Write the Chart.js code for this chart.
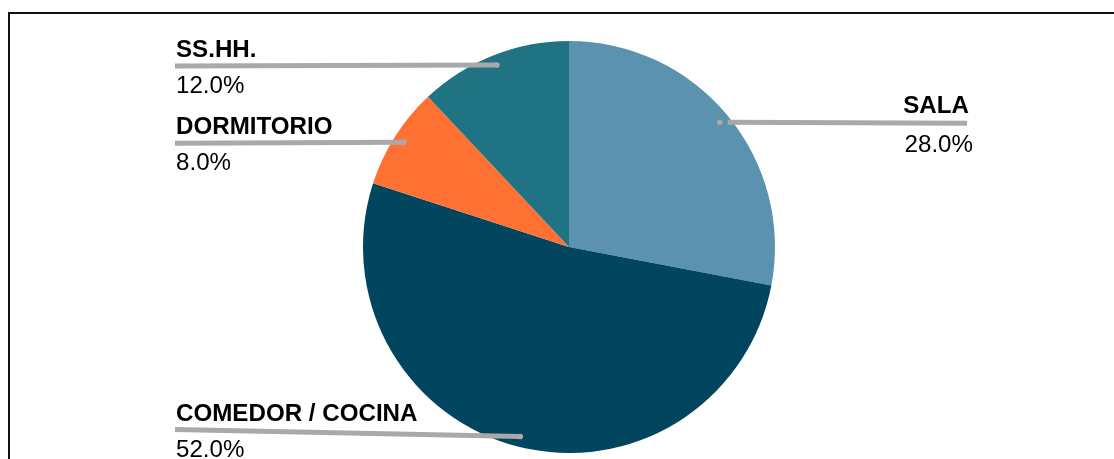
<!DOCTYPE html>
<html>
<head>
<meta charset="utf-8">
<script src="https://cdn.jsdelivr.net/npm/chart.js@4.4.1/dist/chart.umd.min.js"></script>
<style>
    html, body { margin: 0; padding: 0; background: #fff; overflow: hidden; }
    #marco { position: absolute; left: 8px; top: 12px; width: 1200px; height: 600px; border: 2px solid #111; }
    #contenedor { position: absolute; left: 0; top: 0; width: 1114px; height: 459px; }
</style>
</head>
<body>
<div id="marco"></div>
<div id="contenedor"><canvas id="graficoAmbientes" width="1114" height="459"></canvas></div>
<script>
// datos del grafico
var ambientes = ['SALA', 'COMEDOR / COCINA', 'DORMITORIO', 'SS.HH.'];
var porcentajes = [28.0, 52.0, 8.0, 12.0];
var colores = ['#5A92B0', '#02455F', '#FF7033', '#1F7383'];

// donde va cada etiqueta: lado y desnivel de la linea guia
var ladoEtiqueta = ['der', 'izq', 'izq', 'izq'];
var desnivelGuia = [1, -7, 1, 1];
var xIzq = 175, xDer = 967;

// texto un poco ensanchado
function textoAncho(ctx, texto, x, y, fuente) {
    ctx.save();
    ctx.font = fuente;
    ctx.translate(x, y);
    ctx.scale(1.05, 1);
    ctx.fillText(texto, 0, 0);
    ctx.restore();
}

var etiquetasGuia = {
    id: 'etiquetasGuia',
    afterDatasetsDraw: function (chart) {
        var ctx = chart.ctx;
        var meta = chart.getDatasetMeta(0);
        var negrita = 'bold 23px "Liberation Sans", Arial, sans-serif';
        var normal = '23px "Liberation Sans", Arial, sans-serif';
        ctx.save();
        for (var i = 0; i < meta.data.length; i++) {
            var arco = meta.data[i];
            var medio = (arco.startAngle + arco.endAngle) / 2;
            var r = arco.outerRadius * 0.95;
            var ax = arco.x + Math.cos(medio) * r;
            var ay = arco.y + Math.sin(medio) * r;
            var fx = ladoEtiqueta[i] === 'der' ? xDer : xIzq;
            var fy = ay + desnivelGuia[i];

            // linea guia
            ctx.strokeStyle = '#AAA8A8';
            ctx.lineWidth = 5;
            ctx.lineCap = 'butt';
            ctx.beginPath();
            ctx.moveTo(ladoEtiqueta[i] === 'der' ? ax + 8 : ax, ay);
            ctx.lineTo(fx, fy);
            ctx.stroke();
            ctx.fillStyle = '#AAA8A8';
            ctx.beginPath();
            ctx.arc(ax, ay, 2.8, 0, Math.PI * 2);
            ctx.fill();

            // texto
            ctx.fillStyle = '#000';
            ctx.textBaseline = 'alphabetic';
            if (ladoEtiqueta[i] === 'der') {
                ctx.textAlign = 'right';
                textoAncho(ctx, ambientes[i], fx + 2, fy - 10, negrita);
                textoAncho(ctx, porcentajes[i].toFixed(1) + '%', fx + 6, fy + 29, normal);
            } else {
                ctx.textAlign = 'left';
                textoAncho(ctx, ambientes[i], fx + 1, fy - 9, negrita);
                textoAncho(ctx, porcentajes[i].toFixed(1) + '%', fx + 1, fy + 27, normal);
            }
        }
        ctx.restore();
    }
};

var ctx = document.getElementById('graficoAmbientes').getContext('2d');
var chart = new Chart(ctx, {
    type: 'pie',
    data: {
        labels: ambientes,
        datasets: [{
            data: porcentajes,
            backgroundColor: colores,
            borderWidth: 0
        }]
    },
    options: {
        responsive: false,
        animation: false,
        layout: { padding: { left: 100, right: 76, top: 41, bottom: 6 } },
        plugins: {
            legend: { display: false },
            tooltip: { enabled: false }
        }
    },
    plugins: [etiquetasGuia]
});
</script>
</body>
</html>
